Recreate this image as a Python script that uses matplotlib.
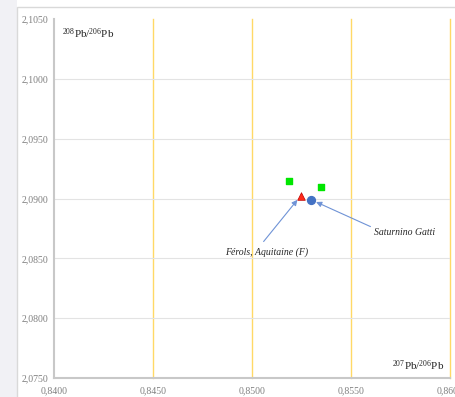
import matplotlib
matplotlib.use("Agg")
import matplotlib.pyplot as plt
from matplotlib.patches import Rectangle
from matplotlib.ticker import FuncFormatter

plt.rcParams['font.family'] = 'Liberation Serif'
plt.rcParams['mathtext.default'] = 'regular'

# lead isotope ratios
green_x = [0.85187, 0.85348]
green_y = [2.0915, 2.0910]
ferols = (0.85247, 2.09025)
gatti = (0.85298, 2.0899)
names = ['Férols, Aquitaine (F)', 'Saturnino Gatti']
xticks = [0.840, 0.845, 0.850, 0.855, 0.860]
yticks = [2.075, 2.080, 2.085, 2.090, 2.095, 2.100, 2.105]

fig = plt.figure(figsize=(4.55, 3.97), dpi=100)
fig.patch.set_facecolor('white')

# grey side strip and chart frame
fig.patches.append(Rectangle((0, 0), 17 / 455, 1, transform=fig.transFigure,
                             facecolor='#f1f1f5', edgecolor='none', zorder=-2))
fig.patches.append(Rectangle((17 / 455, -0.01), 1, 1 - 7 / 397 + 0.01, transform=fig.transFigure,
                             facecolor='white', edgecolor='#d9d9d9', lw=1, zorder=-1))

ax = fig.add_axes([54 / 455, 19 / 397, 396 / 455, 359 / 397])
ax.set_facecolor('white')
ax.set_xlim(0.840, 0.860)
ax.set_ylim(2.075, 2.105)
ax.set_xticks(xticks)
ax.set_yticks(yticks)
ax.xaxis.set_major_formatter(FuncFormatter(lambda v, p: f'{v:.4f}'.replace('.', ',')))
ax.yaxis.set_major_formatter(FuncFormatter(lambda v, p: f'{v:.4f}'.replace('.', ',')))
ax.tick_params(length=0, labelsize=7, colors='#7f7f7f', pad=4)
ax.tick_params(axis='x', pad=6)

for v in xticks[1:]:
    ax.axvline(v, color='#ffd966', lw=1, zorder=1, clip_on=False)
for v in yticks[1:-1]:
    ax.axhline(v, color='#e3e3e3', lw=0.8, zorder=1)

for s in ['top', 'right']:
    ax.spines[s].set_visible(False)
for s in ['left', 'bottom']:
    ax.spines[s].set_color('#c8c8c8')
    ax.spines[s].set_linewidth(1.5)

ax.scatter(green_x, green_y, marker='s', s=22, color='#00e600', zorder=3)
ax.scatter([ferols[0]], [ferols[1]], marker='^', s=30, color='#ff2a1a',
           edgecolor='#c00000', lw=0.5, zorder=3)
ax.scatter([gatti[0]], [gatti[1]], marker='o', s=32, color='#4472c4', zorder=3)

arrow = dict(arrowstyle='-|>', color='#6f93d6', lw=0.8, mutation_scale=8, shrinkB=4)
ax.annotate(names[0], xy=ferols, xytext=(0.85076, 2.0855), fontsize=7, style='italic',
            ha='center', va='center', color='#262626',
            arrowprops=dict(arrow, shrinkA=3, relpos=(0.4, 1.0)))
ax.annotate(names[1], xy=gatti, xytext=(0.85773, 2.0872), fontsize=7, style='italic',
            ha='center', va='center', color='#262626',
            arrowprops=dict(arrow, shrinkA=1, relpos=(0, 0.9)))

ax.text(0.02, 0.96, r'$^{208}$Pb/$^{206}$Pb', transform=ax.transAxes, fontsize=8,
        ha='left', va='center', color='#262626')
ax.text(0.985, 0.033, r'$^{207}$Pb/$^{206}$Pb', transform=ax.transAxes, fontsize=8,
        ha='right', va='center', color='#262626')

fig.savefig('out.png', dpi=100)
